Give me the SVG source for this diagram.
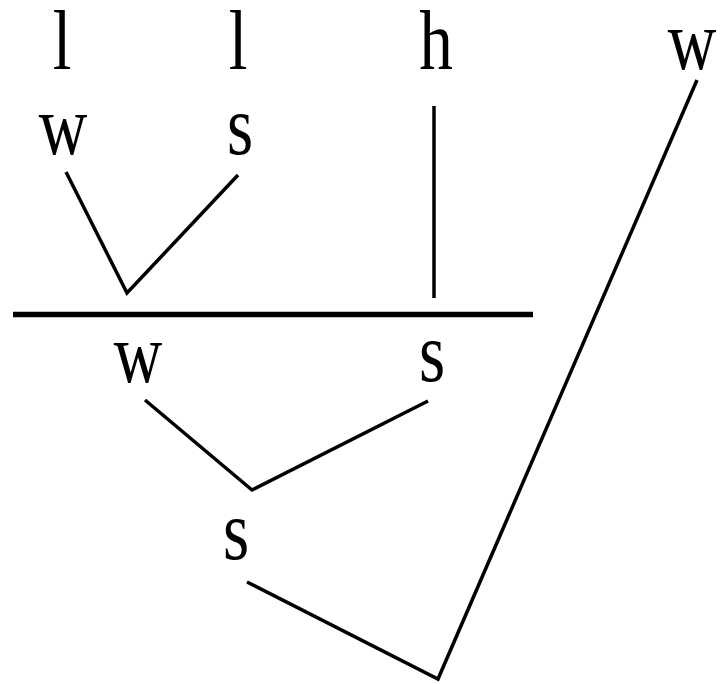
<svg xmlns="http://www.w3.org/2000/svg" width="722" height="684" viewBox="0 0 722 684">
<style>
text{font-family:"Liberation Serif","Times New Roman",serif;font-size:84px;fill:#000;text-anchor:middle}
.e{fill:none;stroke:#000;stroke-width:3.5;stroke-linejoin:miter}
.bar{stroke:#000;stroke-width:5.5}
</style>
<rect width="722" height="684" fill="#fff"/>
<g id="connectors">
<polyline class="e" points="66,172 127,293 238,175"/>
<line class="e" x1="434" y1="106" x2="434" y2="298"/>
<line class="bar" x1="13" y1="314.5" x2="533" y2="314.5"/>
<polyline class="e" points="145,400 252,490 428,401"/>
<polyline class="e" points="247,582 438,679 697,80"/>
</g>
<g id="n-l1"><text transform="translate(62,69) scale(0.8,1)">l</text></g>
<g id="n-l2"><text transform="translate(238,69) scale(0.8,1)">l</text></g>
<g id="n-h"><text transform="translate(436,69) scale(0.8,1)">h</text></g>
<g id="n-w-top"><text transform="translate(692,69) scale(0.8,1)">w</text></g>
<g id="n-w1"><text transform="translate(63,154) scale(0.8,1)">w</text></g>
<g id="n-s1"><text transform="translate(240,154) scale(0.8,1)">s</text></g>
<g id="n-w2"><text transform="translate(138,382) scale(0.8,1)">w</text></g>
<g id="n-s2"><text transform="translate(432,381) scale(0.8,1)">s</text></g>
<g id="n-s3"><text transform="translate(236,559) scale(0.8,1)">s</text></g>
</svg>
